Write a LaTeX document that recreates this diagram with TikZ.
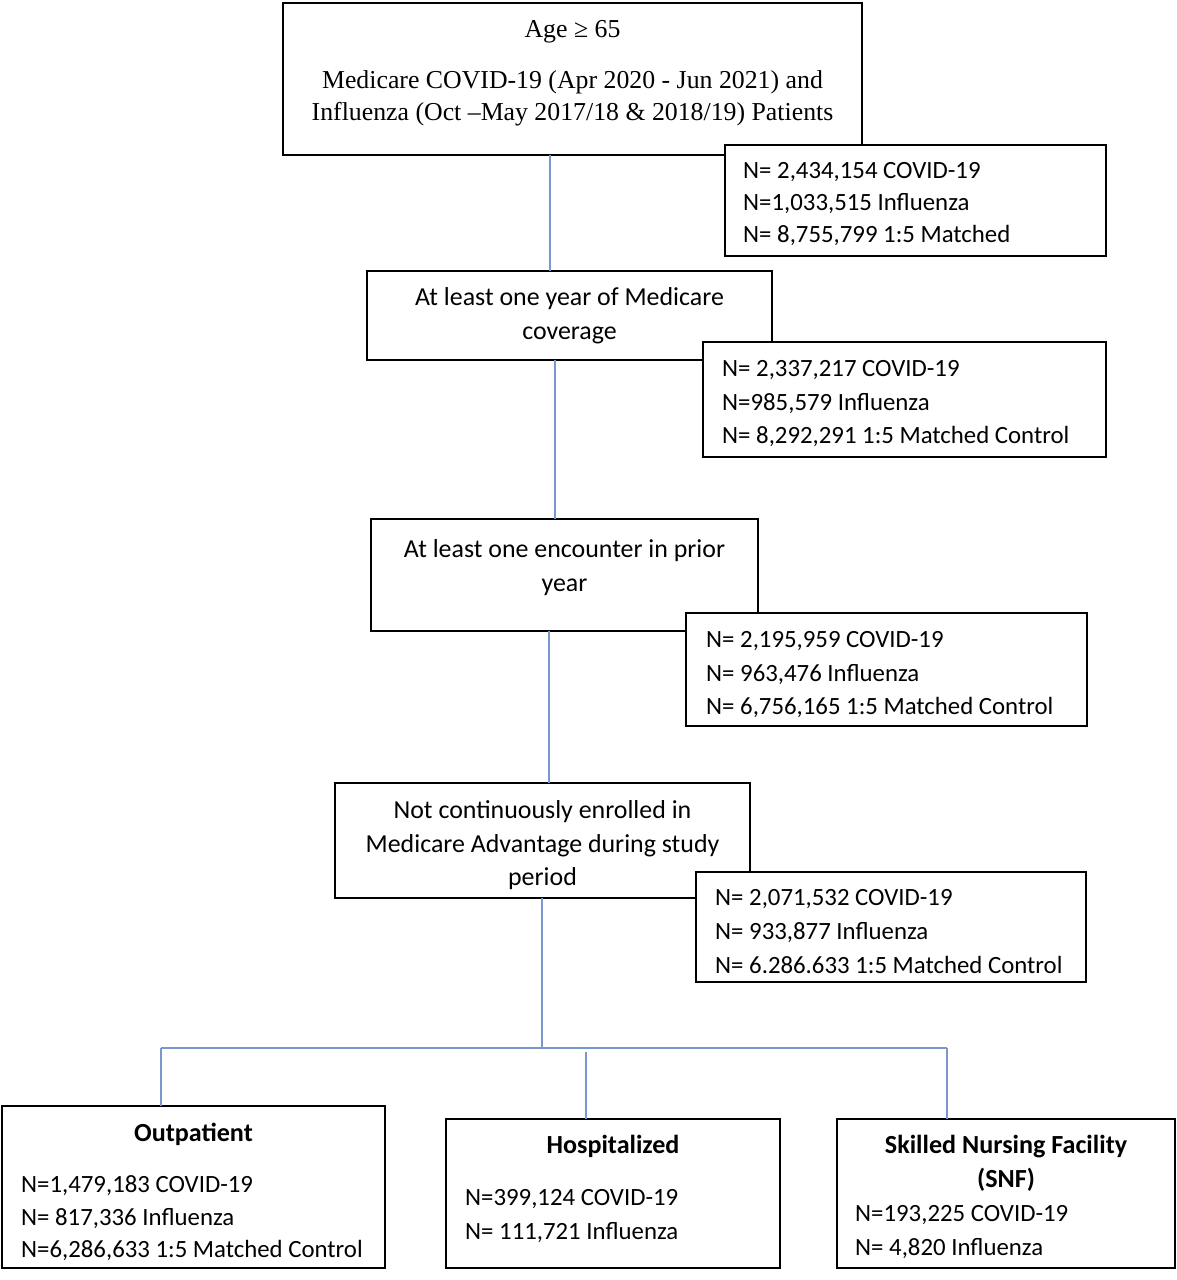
\documentclass[tikz,border=0pt]{standalone}
\usepackage{fontspec}
\setmainfont{Carlito}
\newfontfamily\serifrm{Liberation Serif}
\definecolor{connblue}{RGB}{122,152,206}
\begin{document}
\begin{tikzpicture}[x=1pt,y=-1pt,
  boxx/.style={draw=black,line width=2pt,fill=white,inner sep=0pt,outer sep=0pt},
  conn/.style={draw=connblue,line width=1.6pt},
  ctxt/.style={inner sep=0pt,font=\fontsize{25.9}{30}\selectfont,anchor=base},
  ltxt/.style={inner sep=0pt,font=\fontsize{24.8}{30}\selectfont,anchor=base west},
  btxt/.style={inner sep=0pt,font=\fontsize{26.1}{30}\selectfont\bfseries,anchor=base},
  stxt/.style={inner sep=0pt,font=\serifrm\fontsize{25.8}{30}\selectfont,anchor=base}]
\useasboundingbox (0,0) rectangle (1177,1280);
\fill[white] (0,0) rectangle (1177,1280);
% helper macro for boxes: corners
\newcommand{\mybox}[5]{\node[boxx,minimum width={#4-#2},minimum height={#5-#3}] (#1) at ({(#2+#4)/2},{(#3+#5)/2}) {};}
% main boxes
\mybox{top}{283}{3}{862}{155}
\mybox{b3}{367}{271}{772}{360}
\mybox{b5}{371}{519}{758}{631}
\mybox{b7}{335}{783}{750}{898}
\mybox{outp}{2}{1106}{385}{1268}
\mybox{hosp}{446}{1119}{780}{1268}
\mybox{snf}{837}{1119}{1175}{1268}
% count boxes drawn over
\mybox{n1}{725}{145}{1106}{256}
\mybox{n2}{703}{342}{1106}{457}
\mybox{n3}{686}{613}{1087}{726}
\mybox{n4}{696}{872}{1086}{982}
% top box text
\node[stxt] (t1) at (572.5,37) {Age ≥ 65};
\node[stxt] (t2) at (572.5,88) {Medicare COVID-19 (Apr 2020 - Jun 2021) and};
\node[stxt] (t3) at (572.5,120) {Influenza (Oct –May 2017/18 \& 2018/19) Patients};
% criteria boxes text
\node[ctxt] (c3a) at (569.5,305) {At least one year of Medicare};
\node[ctxt] (c3b) at (569.5,339) {coverage};
\node[ctxt] (c5a) at (564.5,557) {At least one encounter in prior};
\node[ctxt] (c5b) at (564.5,591) {year};
\node[ctxt] (c7a) at (542.5,818) {Not continuously enrolled in};
\node[ctxt] (c7b) at (542.5,852) {Medicare Advantage during study};
\node[ctxt] (c7c) at (542.5,885) {period};
% count text
\node[ltxt] (n1a) at (743,178) {N= 2,434,154 COVID-19};
\node[ltxt] (n1b) at (743,210) {N=1,033,515 Influenza};
\node[ltxt] (n1c) at (743,242) {N= 8,755,799 1:5 Matched};
\node[ltxt] (n2a) at (722,376) {N= 2,337,217 COVID-19};
\node[ltxt] (n2b) at (722,410) {N=985,579 Influenza};
\node[ltxt] (n2c) at (722,443) {N= 8,292,291 1:5 Matched Control};
\node[ltxt] (n3a) at (706,647) {N= 2,195,959 COVID-19};
\node[ltxt] (n3b) at (706,681) {N= 963,476 Influenza};
\node[ltxt] (n3c) at (706,714) {N= 6,756,165 1:5 Matched Control};
\node[ltxt] (n4a) at (715,905) {N= 2,071,532 COVID-19};
\node[ltxt] (n4b) at (715,939) {N= 933,877 Influenza};
\node[ltxt] (n4c) at (715,973) {N= 6.286.633 1:5 Matched Control};
% bottom boxes text
\node[btxt] (o0) at (193.5,1141) {Outpatient};
\node[ltxt] (o1) at (21,1192) {N=1,479,183 COVID-19};
\node[ltxt] (o2) at (21,1225) {N= 817,336 Influenza};
\node[ltxt] (o3) at (21,1257) {N=6,286,633 1:5 Matched Control};
\node[btxt] (h0) at (613,1153) {Hospitalized};
\node[ltxt] (h1) at (465,1205) {N=399,124 COVID-19};
\node[ltxt] (h2) at (465,1239) {N= 111,721 Influenza};
\node[btxt] (s0) at (1006,1153) {Skilled Nursing Facility};
\node[btxt] (s0b) at (1006,1187) {(SNF)};
\node[ltxt] (s1) at (855,1221) {N=193,225 COVID-19};
\node[ltxt] (s2) at (855,1255) {N= 4,820 Influenza};
% connector guide coordinates
\coordinate (x1) at (550,0);
\coordinate (x2) at (555,0);
\coordinate (x3) at (549,0);
\coordinate (x4) at (542,0);
\coordinate (jc) at (542,1048);
\coordinate (jl) at (161,1048);
\coordinate (jr) at (947,1048);
\coordinate (jm) at (586,1052);
% connectors
\draw[conn] (top.south -| x1) -- (b3.north -| x1);
\draw[conn] (b3.south -| x2) -- (b5.north -| x2);
\draw[conn] (b5.south -| x3) -- (b7.north -| x3);
\draw[conn] (b7.south -| x4) -- (jc);
\draw[conn] (jl) -- (jr);
\draw[conn] (jl) -- (outp.north -| jl);
\draw[conn] (jm) -- (hosp.north -| jm);
\draw[conn] (jr) -- (snf.north -| jr);
\end{tikzpicture}
\end{document}
